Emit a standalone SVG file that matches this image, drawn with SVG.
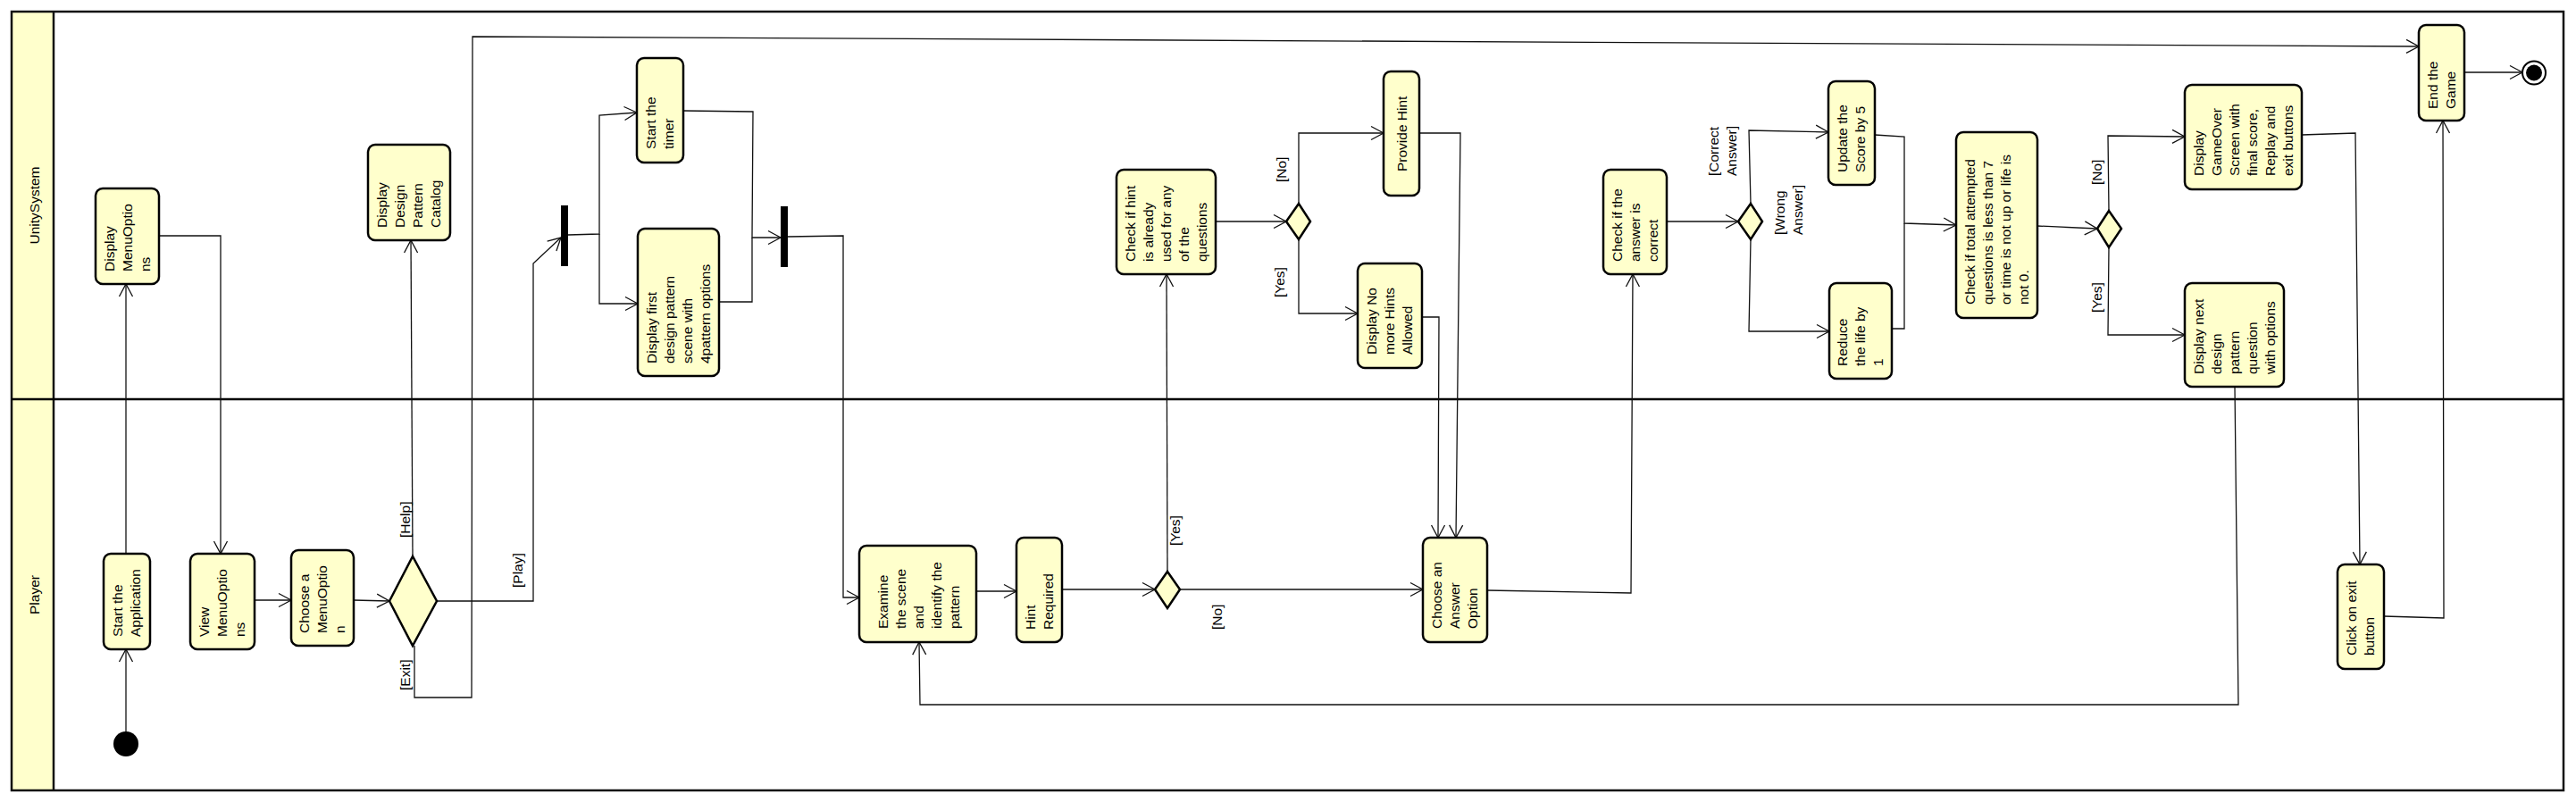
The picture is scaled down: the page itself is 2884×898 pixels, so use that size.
<svg xmlns="http://www.w3.org/2000/svg" width="2884" height="898" viewBox="0 0 2884 898">
<defs>
<marker id="arr" viewBox="-16 -10 18 20" refX="0" refY="0" markerWidth="18" markerHeight="20" markerUnits="userSpaceOnUse" orient="auto">
<path d="M-14,-7.5 L0,0 L-14,7.5" fill="none" stroke="#111" stroke-width="1.3"/>
</marker>
</defs>
<style>
.node rect{fill:#FFFFCC;stroke:#000;stroke-width:2.5}
.dec{fill:#FFFFCC;stroke:#000;stroke-width:2.5}
.t{font-family:"Liberation Sans",Arial,sans-serif;font-size:15.5px;fill:#000}
.e{fill:none;stroke:#111;stroke-width:1.3;marker-end:url(#arr)}
.p{fill:none;stroke:#111;stroke-width:1.3}
.bar{fill:#000}
</style>
<rect x="0" y="0" width="2884" height="898" fill="#fff"/>
<g id="lanes">
<rect x="13" y="13" width="47" height="872" fill="#FFFFCC"/>
<rect x="13" y="13" width="2857" height="872" fill="none" stroke="#111" stroke-width="2.5"/>
<line x1="60" y1="13" x2="60" y2="885" stroke="#111" stroke-width="2.5"/>
<line x1="13" y1="447" x2="2870" y2="447" stroke="#000" stroke-width="2.5"/>
<text class="t" text-anchor="middle" transform="translate(44,230) rotate(-90)">UnitySystem</text>
<text class="t" text-anchor="middle" transform="translate(44,666) rotate(-90)">Player</text>
</g>
<g id="connectors">
<polyline class="e" points="141,819 141,727"/>
<polyline class="e" points="141,620 141,318"/>
<polyline class="e" points="178,264 247,264 247,620"/>
<polyline class="e" points="285,672 326,672"/>
<polyline class="e" points="396,672 436,673"/>
<polyline class="e" points="462,623 460,269"/>
<polyline class="e" points="489,673 597,673 597,295 628,266"/>
<polyline class="e" points="464,723 464,781 528,781 529,41 2708,52"/>
<polyline class="e" points="636,263 671,262 671,129 713,126"/>
<polyline class="e" points="671,262 671,340 714,340"/>
<polyline class="e" points="765,124 843,125 842,266 874,266"/>
<polyline class="p" points="805,338 842,338 842,266"/>
<polyline class="e" points="882,265 944,264 944,669 962,669"/>
<polyline class="e" points="1093,662 1138,662"/>
<polyline class="e" points="1189,660 1293,660"/>
<polyline class="e" points="1307,640 1306,307"/>
<polyline class="e" points="1321,660 1593,660"/>
<polyline class="e" points="1361,248 1440,248"/>
<polyline class="e" points="1454,228 1454,149 1549,149"/>
<polyline class="e" points="1454,268 1454,351 1520,351"/>
<polyline class="e" points="1589,149 1635,149 1630,602"/>
<polyline class="e" points="1592,355 1611,355 1610,602"/>
<polyline class="e" points="1665,661 1826,664 1828,307"/>
<polyline class="e" points="1866,248 1946,248"/>
<polyline class="e" points="1960,228 1958,146 2047,148"/>
<polyline class="e" points="1960,268 1958,371 2048,371"/>
<polyline class="e" points="2099,151 2132,153 2132,250 2190,252"/>
<polyline class="p" points="2118,368 2132,368 2132,250"/>
<polyline class="e" points="2281,253 2348,256"/>
<polyline class="e" points="2361,236 2360,152 2446,153"/>
<polyline class="e" points="2361,277 2360,375 2446,375"/>
<polyline class="e" points="2577,151 2637,149 2642,632"/>
<polyline class="e" points="2502,433 2506,789 1030,789 1029,719"/>
<polyline class="e" points="2669,690 2736,692 2735,135"/>
<polyline class="e" points="2759,81 2824,81"/>
<text class="t" transform="translate(459,602) rotate(-90)">[Help]</text>
<text class="t" transform="translate(459,773) rotate(-90)">[Exit]</text>
<text class="t" transform="translate(585,658) rotate(-90)">[Play]</text>
<text class="t" transform="translate(1321,611) rotate(-90)">[Yes]</text>
<text class="t" transform="translate(1368,705) rotate(-90)">[No]</text>
<text class="t" transform="translate(1440,204) rotate(-90)">[No]</text>
<text class="t" transform="translate(1438,333) rotate(-90)">[Yes]</text>
<text class="t" transform="translate(1924,197) rotate(-90)"><tspan x="0" y="0">[Correct</tspan><tspan x="0" y="20">Answer]</tspan></text>
<text class="t" transform="translate(1998,263) rotate(-90)"><tspan x="0" y="0">[Wrong</tspan><tspan x="0" y="20">Answer]</tspan></text>
<text class="t" transform="translate(2353,207) rotate(-90)">[No]</text>
<text class="t" transform="translate(2353,350) rotate(-90)">[Yes]</text>
</g>
<g id="initial"><circle cx="141" cy="833" r="14" fill="#000"/></g>
<g id="final"><circle cx="2837" cy="81.5" r="13" fill="#fff" stroke="#000" stroke-width="2"/><circle cx="2837" cy="81.5" r="9" fill="#000"/></g>
<g id="fork"><rect class="bar" x="628" y="230" width="8" height="68"/></g>
<g id="join"><rect class="bar" x="874" y="231" width="8" height="68"/></g>
<g id="dec1"><polygon class="dec" points="436,673 462,623 489,673 462,723"/></g>
<g id="dec2"><polygon class="dec" points="1293,660 1307,640 1321,660 1307,681"/></g>
<g id="dec3"><polygon class="dec" points="1440,248 1454,228 1467,248 1454,268"/></g>
<g id="dec4"><polygon class="dec" points="1946,248 1960,228 1973,248 1960,268"/></g>
<g id="dec5"><polygon class="dec" points="2348,256 2361,236 2375,256 2361,277"/></g>
<g id="n-display-menu" class="node"><rect x="107" y="211" width="71" height="107" rx="8"/><text class="t" transform="translate(127.5,304) rotate(-90)"><tspan x="0" y="0">Display</tspan><tspan x="0" y="20">MenuOptio</tspan><tspan x="0" y="40">ns</tspan></text></g>
<g id="n-start-app" class="node"><rect x="116" y="620" width="52" height="107" rx="8"/><text class="t" transform="translate(137,713) rotate(-90)"><tspan x="0" y="0">Start the</tspan><tspan x="0" y="20">Application</tspan></text></g>
<g id="n-view-menu" class="node"><rect x="213" y="620" width="72" height="107" rx="8"/><text class="t" transform="translate(234,713) rotate(-90)"><tspan x="0" y="0">View</tspan><tspan x="0" y="20">MenuOptio</tspan><tspan x="0" y="40">ns</tspan></text></g>
<g id="n-choose-menu" class="node"><rect x="326" y="616" width="70" height="107" rx="8"/><text class="t" transform="translate(346,709) rotate(-90)"><tspan x="0" y="0">Choose a</tspan><tspan x="0" y="20">MenuOptio</tspan><tspan x="0" y="40">n</tspan></text></g>
<g id="n-catalog" class="node"><rect x="412" y="162" width="92" height="107" rx="8"/><text class="t" transform="translate(433,255) rotate(-90)"><tspan x="0" y="0">Display</tspan><tspan x="0" y="20">Design</tspan><tspan x="0" y="40">Pattern</tspan><tspan x="0" y="60">Catalog</tspan></text></g>
<g id="n-timer" class="node"><rect x="713" y="65" width="52" height="117" rx="8"/><text class="t" transform="translate(734,167) rotate(-90)"><tspan x="0" y="0">Start the</tspan><tspan x="0" y="20">timer</tspan></text></g>
<g id="n-display-first" class="node"><rect x="714" y="256" width="91" height="165" rx="8"/><text class="t" transform="translate(734.5,407) rotate(-90)"><tspan x="0" y="0">Display first</tspan><tspan x="0" y="20">design pattern</tspan><tspan x="0" y="40">scene with</tspan><tspan x="0" y="60">4pattern options</tspan></text></g>
<g id="n-examine" class="node"><rect x="962" y="611" width="131" height="108" rx="8"/><text class="t" transform="translate(993.5,704) rotate(-90)"><tspan x="0" y="0">Examine</tspan><tspan x="0" y="20">the scene</tspan><tspan x="0" y="40">and</tspan><tspan x="0" y="60">identify the</tspan><tspan x="0" y="80">pattern</tspan></text></g>
<g id="n-hint-required" class="node"><rect x="1138" y="602" width="51" height="117" rx="8"/><text class="t" transform="translate(1158.5,705) rotate(-90)"><tspan x="0" y="0">Hint</tspan><tspan x="0" y="20">Required</tspan></text></g>
<g id="n-check-hint" class="node"><rect x="1250" y="190" width="111" height="117" rx="8"/><text class="t" transform="translate(1270.5,293) rotate(-90)"><tspan x="0" y="0">Check if hint</tspan><tspan x="0" y="20">is already</tspan><tspan x="0" y="40">used for any</tspan><tspan x="0" y="60">of the</tspan><tspan x="0" y="80">questions</tspan></text></g>
<g id="n-provide-hint" class="node"><rect x="1549" y="80" width="40" height="139" rx="8"/><text class="t" transform="translate(1575,192) rotate(-90)">Provide Hint</text></g>
<g id="n-no-more-hints" class="node"><rect x="1520" y="295" width="72" height="117" rx="8"/><text class="t" transform="translate(1541,397) rotate(-90)"><tspan x="0" y="0">Display No</tspan><tspan x="0" y="20">more Hints</tspan><tspan x="0" y="40">Allowed</tspan></text></g>
<g id="n-choose-answer" class="node"><rect x="1593" y="602" width="72" height="117" rx="8"/><text class="t" transform="translate(1614,704) rotate(-90)"><tspan x="0" y="0">Choose an</tspan><tspan x="0" y="20">Answer</tspan><tspan x="0" y="40">Option</tspan></text></g>
<g id="n-check-answer" class="node"><rect x="1795" y="190" width="71" height="117" rx="8"/><text class="t" transform="translate(1815.5,293) rotate(-90)"><tspan x="0" y="0">Check if the</tspan><tspan x="0" y="20">answer is</tspan><tspan x="0" y="40">correct</tspan></text></g>
<g id="n-update-score" class="node"><rect x="2047" y="91" width="52" height="116" rx="8"/><text class="t" transform="translate(2068,193) rotate(-90)"><tspan x="0" y="0">Update the</tspan><tspan x="0" y="20">Score by 5</tspan></text></g>
<g id="n-reduce-life" class="node"><rect x="2048" y="317" width="70" height="107" rx="8"/><text class="t" transform="translate(2068,410) rotate(-90)"><tspan x="0" y="0">Reduce</tspan><tspan x="0" y="20">the life by</tspan><tspan x="0" y="40">1</tspan></text></g>
<g id="n-check-total" class="node"><rect x="2190" y="148" width="91" height="208" rx="8"/><text class="t" transform="translate(2210.5,341) rotate(-90)"><tspan x="0" y="0">Check if total attempted</tspan><tspan x="0" y="20">questions is less than 7</tspan><tspan x="0" y="40">or time is not up or life is</tspan><tspan x="0" y="60">not 0.</tspan></text></g>
<g id="n-gameover" class="node"><rect x="2446" y="95" width="131" height="117" rx="8"/><text class="t" transform="translate(2466.5,197) rotate(-90)"><tspan x="0" y="0">Display</tspan><tspan x="0" y="20">GameOver</tspan><tspan x="0" y="40">Screen with</tspan><tspan x="0" y="60">final score,</tspan><tspan x="0" y="80">Replay and</tspan><tspan x="0" y="100">exit buttons</tspan></text></g>
<g id="n-display-next" class="node"><rect x="2446" y="317" width="111" height="116" rx="8"/><text class="t" transform="translate(2466.5,419) rotate(-90)"><tspan x="0" y="0">Display next</tspan><tspan x="0" y="20">design</tspan><tspan x="0" y="40">pattern</tspan><tspan x="0" y="60">question</tspan><tspan x="0" y="80">with options</tspan></text></g>
<g id="n-click-exit" class="node"><rect x="2617" y="632" width="52" height="117" rx="8"/><text class="t" transform="translate(2638,734) rotate(-90)"><tspan x="0" y="0">Click on exit</tspan><tspan x="0" y="20">button</tspan></text></g>
<g id="n-end-game" class="node"><rect x="2708" y="28" width="51" height="107" rx="8"/><text class="t" transform="translate(2728.5,122) rotate(-90)"><tspan x="0" y="0">End the</tspan><tspan x="0" y="20">Game</tspan></text></g>
</svg>
